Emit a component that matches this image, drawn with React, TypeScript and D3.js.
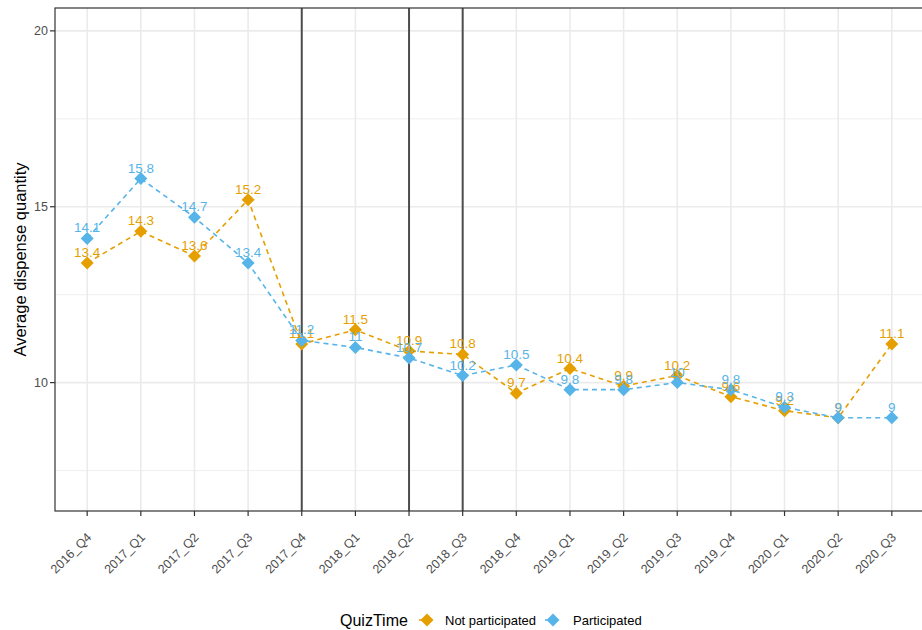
import React from "react";
import * as d3 from "d3";

const categories = ["2016_Q4","2017_Q1","2017_Q2","2017_Q3","2017_Q4","2018_Q1","2018_Q2","2018_Q3","2018_Q4","2019_Q1","2019_Q2","2019_Q3","2019_Q4","2020_Q1","2020_Q2","2020_Q3"];
const notParticipated = [13.4, 14.3, 13.6, 15.2, 11.1, 11.5, 10.9, 10.8, 9.7, 10.4, 9.9, 10.2, 9.6, 9.2, 9.0, 11.1];
const participated = [14.1, 15.8, 14.7, 13.4, 11.2, 11.0, 10.7, 10.2, 10.5, 9.8, 9.8, 10.0, 9.8, 9.3, 9.0, 9.0];
const seriesNames = ["Not participated", "Participated"];
const seriesColors = ["#E69F00", "#56B4E9"];
const vlineCats = ["2017_Q4", "2018_Q2", "2018_Q3"];
const yMajor = [10, 15, 20];
const yMinor = [7.5, 12.5, 17.5];
const yLimits = [7, 20];

const W = 922, H = 630;
const panel = { left: 55, right: 924, top: 8, bottom: 511 };
const FONT = "'Liberation Sans', Arial, Helvetica, sans-serif";

function diamond(cx: number, cy: number, r: number) {
  return `M${cx},${cy - r}L${cx + r},${cy}L${cx},${cy + r}L${cx - r},${cy}Z`;
}

export default function App() {
  const x = d3.scalePoint<string>().domain(categories).range([panel.left, panel.right]).padding(0.6);
  const ext = (yLimits[1] - yLimits[0]) * 0.05;
  const y = d3.scaleLinear().domain([yLimits[0] - ext, yLimits[1] + ext]).range([panel.bottom, panel.top]);
  const series = [notParticipated, participated];
  const line = d3.line<number>().x((_, i) => x(categories[i])!).y((d) => y(d));
  const fmt = (v: number) => String(Math.round(v * 10) / 10);

  return (
    <svg width={W} height={H} style={{ position: "fixed", left: 0, top: 0, background: "#fff" }} fontFamily={FONT}>
      <rect x={0} y={0} width={W} height={H} fill="#fff" />
      {yMinor.map((v) => (
        <line key={"mi" + v} x1={panel.left} x2={panel.right} y1={y(v)} y2={y(v)} stroke="#ebebeb" strokeWidth={0.8} />
      ))}
      {yMajor.map((v) => (
        <line key={"ma" + v} x1={panel.left} x2={panel.right} y1={y(v)} y2={y(v)} stroke="#ebebeb" strokeWidth={1.6} />
      ))}
      {categories.map((c) => (
        <line key={"vx" + c} x1={x(c)} x2={x(c)} y1={panel.top} y2={panel.bottom} stroke="#ebebeb" strokeWidth={1.6} />
      ))}
      {vlineCats.map((c) => (
        <line key={"vl" + c} x1={x(c)} x2={x(c)} y1={panel.top} y2={panel.bottom} stroke="#4d4d4d" strokeWidth={2} />
      ))}
      {series.map((s, k) => (
        <path key={"l" + k} d={line(s)!} fill="none" stroke={seriesColors[k]} strokeWidth={1.6} strokeDasharray="5,4" />
      ))}
      {series.map((s, k) =>
        s.map((v, i) => (
          <path key={"p" + k + i} d={diamond(x(categories[i])!, y(v), 6.5)} fill={seriesColors[k]} />
        ))
      )}
      {series.map((s, k) =>
        s.map((v, i) => (
          <text key={"t" + k + i} x={x(categories[i])!} y={y(v) - 6} textAnchor="middle" fontSize={13.5} fill={seriesColors[k]}>
            {fmt(v)}
          </text>
        ))
      )}
      <rect x={panel.left} y={panel.top} width={panel.right - panel.left} height={panel.bottom - panel.top} fill="none" stroke="#333" strokeWidth={1.2} />
      {yMajor.map((v) => (
        <g key={"ya" + v}>
          <line x1={panel.left - 5} x2={panel.left} y1={y(v)} y2={y(v)} stroke="#333" strokeWidth={1.2} />
          <text x={panel.left - 7} y={y(v)} dy="0.35em" textAnchor="end" fontSize={12.5} fill="#4d4d4d">{v}</text>
        </g>
      ))}
      {categories.map((c) => (
        <g key={"xa" + c}>
          <line x1={x(c)} x2={x(c)} y1={panel.bottom} y2={panel.bottom + 5} stroke="#333" strokeWidth={1.2} />
          <text transform={`translate(${x(c)! + 5},${panel.bottom + 27}) rotate(-45)`} textAnchor="end" fontSize={12.5} fill="#4d4d4d">{c}</text>
        </g>
      ))}
      <text transform={`translate(26,${(panel.top + panel.bottom) / 2}) rotate(-90)`} textAnchor="middle" fontSize={16.5} fill="#000">
        Average dispense quantity
      </text>
      <text x={340} y={620} dy="0.35em" fontSize={16} fill="#000">QuizTime</text>
      {seriesNames.map((n, k) => {
        const kx = k === 0 ? 427 : 553;
        const tx = k === 0 ? 445 : 573;
        return (
          <g key={"lg" + k}>
            <line x1={kx - 9} x2={kx + 9} y1={620} y2={620} stroke={seriesColors[k]} strokeWidth={1.6} strokeDasharray="4,5" strokeDashoffset={-1} />
            <path d={diamond(kx, 620, 6.5)} fill={seriesColors[k]} />
            <text x={tx} y={620} dy="0.35em" fontSize={13} fill="#000">{n}</text>
          </g>
        );
      })}
    </svg>
  );
}
